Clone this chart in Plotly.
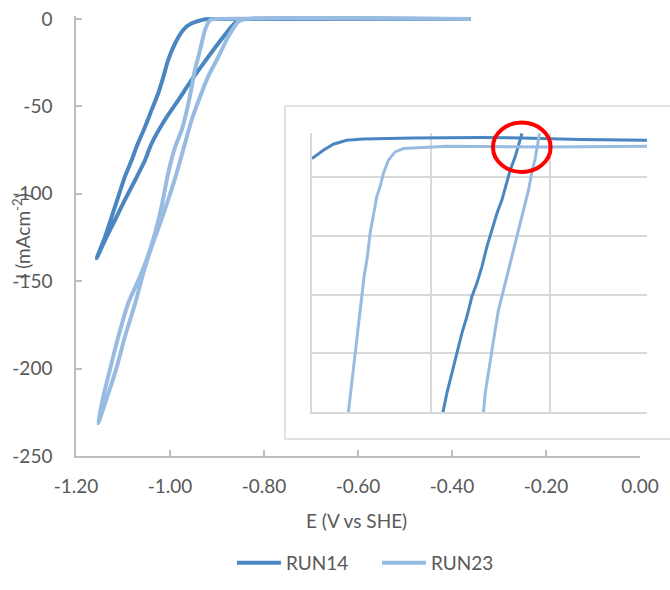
import plotly.graph_objects as go

# ---------------- main data (E in V vs SHE, I in mA cm^-2) ----------------
run14_E = [-0.36, -0.851, -0.904, -0.9255, -0.954, -0.972, -0.989, -1.004, -1.014, -1.025,
           -1.039, -1.053, -1.071, -1.0815, -1.096, -1.110, -1.124, -1.138, -1.156,
           -1.138, -1.117, -1.096, -1.074, -1.053, -1.039, -1.011, -0.982, -0.954,
           -0.926, -0.897, -0.869, -0.855, -0.840, -0.36]
run14_I = [0.0, 0.0, 0.0, -0.17, -2.5, -6.3, -13.9, -23.5, -33.0, -42.5,
           -52.0, -61.6, -73.0, -80.7, -90.2, -101.6, -113.0, -124.5, -136.9,
           -126.4, -115.0, -103.5, -92.1, -80.7, -71.1, -57.8, -46.3, -34.9,
           -24.4, -13.9, -4.4, -0.6, 0.0, 0.0]

run23_E = [-0.36, -0.904, -0.915, -0.9255, -0.936, -0.947, -0.955, -0.964, -0.975, -0.989,
           -1.004, -1.018, -1.032, -1.050, -1.067, -1.089, -1.110, -1.128, -1.142, -1.153,
           -1.131, -1.113, -1.096, -1.074, -1.057, -1.039, -1.021, -1.004, -0.986, -0.968,
           -0.954, -0.936, -0.919, -0.897, -0.876, -0.855, -0.840, -0.36]
run23_I = [0.0, 0.0, -0.6, -6.3, -17.7, -29.2, -40.6, -52.1, -63.5, -73.1,
           -88.3, -107.4, -122.6, -137.9, -149.3, -162.6, -181.8, -200.8, -216.1, -231.3,
           -214.1, -198.9, -181.8, -162.6, -145.5, -130.3, -116.9, -103.5, -88.3, -71.1,
           -57.8, -44.5, -33.0, -21.6, -10.1, -1.5, 0.0, 0.0]

# ---------------- inset (zoom on the onset region) ----------------
in14_flat_E = [-1.000, -0.99525, -0.99105, -0.98542, -0.97845, -0.95744, -0.92941, -0.91189, -0.88739, -0.85937]
in14_flat_I = [0.318, 0.460, 0.562, 0.630, 0.652, 0.669, 0.676, 0.669, 0.642, 0.630]
in14_steep_E = [-0.91189, -0.91374, -0.91471, -0.91681, -0.91821, -0.92029, -0.92239, -0.92450, -0.92660,
                -0.92870, -0.93080, -0.93290, -0.93500, -0.93710, -0.93920, -0.94130, -0.94340, -0.94508]
in14_steep_I = [0.744, 0.489, 0.346, 0.119, -0.107, -0.391, -0.618, -0.902, -1.186,
                -1.527, -1.809, -2.037, -2.378, -2.660, -3.001, -3.341, -3.682, -4.012]
in23_flat_E = [-0.85937, -0.90139, -0.94340, -0.95744, -0.96164, -0.96513, -0.96794, -0.97004, -0.97143,
               -0.97282, -0.97424, -0.97563, -0.97676, -0.97815, -0.97912, -0.98013, -0.98122, -0.98235,
               -0.98332, -0.98445, -0.98475]
in23_flat_I = [0.528, 0.516, 0.528, 0.505, 0.488, 0.431, 0.289, 0.063, -0.164,
               -0.333, -0.619, -0.959, -1.357, -1.697, -2.037, -2.378, -2.831, -3.171,
               -3.511, -3.852, -4.012]
in23_steep_E = [-0.90450, -0.90559, -0.90630, -0.90769, -0.90912, -0.91122, -0.91332, -0.91542, -0.91752,
                -0.91962, -0.92172, -0.92311, -0.92450, -0.92592, -0.92731, -0.92803]
in23_steep_I = [0.744, 0.489, 0.318, 0.091, -0.221, -0.562, -0.902, -1.243, -1.583,
                -1.923, -2.264, -2.604, -2.945, -3.341, -3.682, -4.012]

x_ticks = [-1.2, -1.0, -0.8, -0.6, -0.4, -0.2, 0.0]
x_tick_labels = ["-1.20", "-1.00", "-0.80", "-0.60", "-0.40", "-0.20", "0.00"]
y_ticks = [-250, -200, -150, -100, -50, 0]
y_tick_labels = ["-250", "-200", "-150", "-100", "-50", "0"]

DARK = "#4A86C0"
LIGHT = "#98BBE2"
TXT = "#595959"
AX = "#BFBFBF"
GRID = "#D9D9D9"
FONT = "Lato"

fig = go.Figure()
fig.add_trace(go.Scatter(x=run14_E, y=run14_I, mode="lines", name="RUN14",
                         line=dict(color=DARK, width=4, shape="spline", smoothing=0.6)))
fig.add_trace(go.Scatter(x=run23_E, y=run23_I, mode="lines", name="RUN23",
                         line=dict(color=LIGHT, width=4, shape="spline", smoothing=0.6)))

for xs, ys, c in [(in14_flat_E, in14_flat_I, DARK), (in14_steep_E, in14_steep_I, DARK),
                  (in23_flat_E, in23_flat_I, LIGHT), (in23_steep_E, in23_steep_I, LIGHT)]:
    fig.add_trace(go.Scatter(x=xs, y=ys, mode="lines", showlegend=False,
                             line=dict(color=c, width=3), xaxis="x2", yaxis="y2"))

fig.update_layout(
    width=670, height=590,
    margin=dict(l=76, r=0, t=16, b=134, autoexpand=False),
    paper_bgcolor="white", plot_bgcolor="white",
    font=dict(family=FONT, size=19, color=TXT),
    xaxis=dict(domain=[0, 0.949495], range=[-1.2, 0.0], tickvals=x_ticks, ticktext=x_tick_labels,
               showgrid=False, zeroline=False, showline=True, linecolor=AX, linewidth=1.5,
               ticks="inside", ticklen=6, tickcolor=AX, tickwidth=1.5,
               tickfont=dict(family=FONT, size=19, color=TXT), ticklabelstandoff=12),
    yaxis=dict(domain=[0, 1], range=[-250, 1.7], tickvals=y_ticks, ticktext=y_tick_labels,
               showgrid=False, zeroline=False, showline=True, linecolor=AX, linewidth=1.5,
               ticks="inside", ticklen=6, tickcolor=AX, tickwidth=1.5,
               tickfont=dict(family=FONT, size=19, color=TXT), ticklabelstandoff=18),
    xaxis2=dict(domain=[0.39731, 0.96128], range=[-1.0, -0.85937], anchor="y2",
                dtick=0.05, tick0=-1.0, showticklabels=False, showgrid=True, gridcolor=GRID,
                gridwidth=1.5, zeroline=False, showline=True, linecolor=GRID, linewidth=1.5),
    yaxis2=dict(domain=[0.1, 0.73409], range=[-4.0, 0.753], anchor="x2",
                dtick=1, tick0=-4, showticklabels=False, showgrid=True, gridcolor=GRID,
                gridwidth=1.5, zeroline=False, showline=True, linecolor=GRID, linewidth=1.5),
    showlegend=True,
    legend=dict(orientation="h", x=0.2626, xanchor="left", y=-0.2432, yanchor="middle",
                entrywidth=86, itemwidth=44,
                font=dict(family=FONT, size=19, color=TXT), bgcolor="rgba(0,0,0,0)"),
    shapes=[
        dict(type="rect", xref="paper", yref="paper", x0=0.35185, x1=1.005, y0=0.03864, y1=0.79545,
             line=dict(color=GRID, width=1.5), fillcolor="white", layer="below"),
        dict(type="circle", xref="paper", yref="paper", x0=0.70202, x1=0.79899, y0=0.64545, y1=0.75773,
             line=dict(color="#FF0000", width=4)),
    ],
    annotations=[
        dict(text="E (V vs SHE)", xref="paper", yref="paper", x=0.473, y=-0.1477,
             xanchor="center", yanchor="middle", showarrow=False,
             font=dict(family=FONT, size=19, color=TXT)),
        dict(text="I (mAcm<sup>-2</sup>)", xref="paper", yref="paper", x=-0.0926, y=0.5,
             xanchor="center", yanchor="middle", showarrow=False, textangle=-90,
             font=dict(family=FONT, size=19, color=TXT)),
    ],
)

fig.write_html("out.html")
